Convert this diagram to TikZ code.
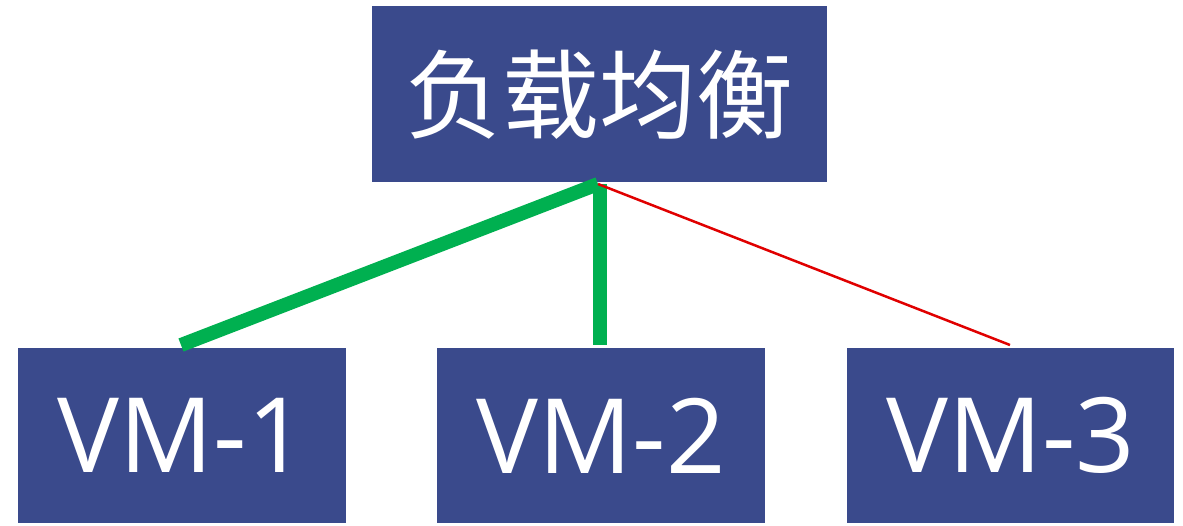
\documentclass[tikz,border=0pt]{standalone}
\usepackage{fontspec}
\setmainfont{Noto Sans CJK SC}
\newfontfamily\latinfont{Open Sans}
\definecolor{boxblue}{RGB}{58,74,140}
\definecolor{lgreen}{RGB}{0,176,80}
\definecolor{lred}{RGB}{224,0,0}
\begin{document}
\begin{tikzpicture}[x=1pt,y=-1pt,
  box/.style={draw=none,fill=boxblue,text=white,inner sep=0pt,anchor=north west},
  thickg/.style={draw=lgreen,line width=14pt},
  thinr/.style={draw=lred,line width=2.5pt}]
\useasboundingbox (0,0) rectangle (1183,525);
\node[box,minimum width=455pt,minimum height=176pt] (lb) at (372,6) {};
\node[text=white,font=\fontsize{97}{97}\selectfont] (lbt) at (lb.center) {负载均衡};
\node[box,minimum width=328pt,minimum height=175pt] (vm1) at (18,348) {};
\node[box,minimum width=328pt,minimum height=175pt] (vm2) at (437,348) {};
\node[box,minimum width=327pt,minimum height=175pt] (vm3) at (847,348) {};
\foreach \n/\t in {vm1/VM-1,vm2/VM-2,vm3/VM-3}
  \node[text=white,font=\latinfont\fontsize{104}{104}\selectfont] at (\n.center) {\t};
\coordinate (top) at (598,184);
\coordinate (e1) at (181,345);
\coordinate (e2) at (600,345);
\coordinate (e3) at (1010,345);
\draw[thickg] (e1) -- (top);
\draw[thickg] (600,184) -- (e2);
\draw[thinr] (top) -- (e3);
\end{tikzpicture}
\end{document}
